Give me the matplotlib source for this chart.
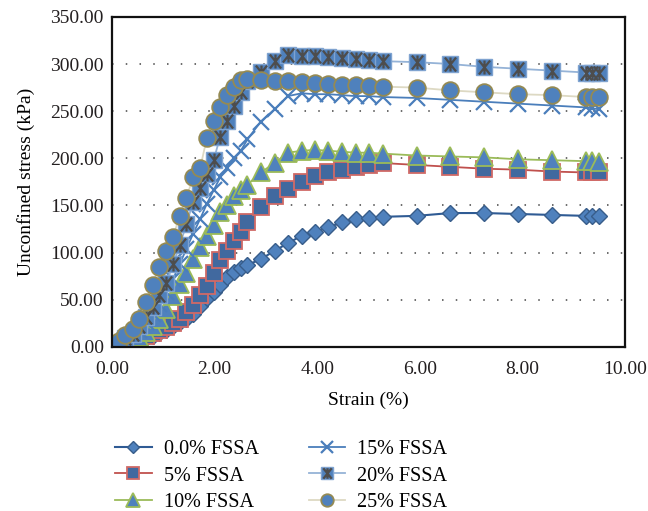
import numpy as np
import matplotlib
matplotlib.use("Agg")
import matplotlib.pyplot as plt
from matplotlib.path import Path
from matplotlib.legend_handler import HandlerTuple

plt.rcParams['font.family'] = ['Liberation Serif', 'DejaVu Serif']
plt.rcParams['font.size'] = 14

# strain (%) common to all series
strain = [0, 0.13, 0.26, 0.40, 0.53, 0.66, 0.79, 0.92, 1.06, 1.19, 1.32, 1.45, 1.58,
          1.72, 1.85, 1.98, 2.11, 2.24, 2.38, 2.51, 2.64, 2.90, 3.17, 3.43, 3.70, 3.96,
          4.22, 4.49, 4.75, 5.01, 5.28, 5.94, 6.60, 7.26, 7.92, 8.58, 9.24, 9.37, 9.50]

# unconfined stress (kPa)
fssa_0 = [0, 1, 3, 5, 7, 9, 12, 15, 18, 22, 26, 30, 35, 43, 52, 58, 66, 74, 80, 84, 87,
          93, 102, 110, 118, 122, 127, 132, 136, 137, 138, 139, 142, 142, 141, 140, 139, 139, 139]
fssa_5 = [0, 2, 4, 6, 9, 12, 15, 18, 21, 25, 30, 37, 45, 55, 65, 78, 92, 102, 112, 122, 133,
          148, 160, 168, 175, 181, 185, 188, 191, 193, 195, 193, 191, 189, 188, 186, 185, 185, 185]
fssa_10 = [0, 2, 4, 7, 11, 16, 22, 30, 40, 54, 67, 78, 93, 106, 118, 129, 143, 151, 160, 166, 172,
           185, 195, 206, 208, 209, 208, 207, 206, 206, 205, 203, 202, 201, 199, 198, 197, 197, 196]
fssa_15 = [0, 3, 7, 12, 18, 26, 35, 46, 58, 72, 88, 104, 120, 136, 152, 166, 180, 190, 200, 208, 220,
           239, 252, 266, 269, 268, 268, 267, 266, 266, 265, 264, 262, 260, 258, 256, 254, 253, 252]
fssa_20 = [0, 4, 9, 14, 22, 32, 42, 55, 68, 88, 108, 130, 154, 169, 183, 198, 223, 240, 255, 270, 282,
           292, 303, 310, 309, 308, 307, 306, 305, 304, 303, 302, 300, 297, 295, 293, 291, 291, 291]
fssa_25 = [0, 6, 13, 19, 30, 48, 66, 85, 102, 117, 139, 158, 180, 190, 222, 240, 254, 267, 276, 283, 284,
           283, 282, 282, 281, 280, 279, 278, 278, 277, 276, 275, 272, 270, 268, 267, 265, 265, 265]

labels = ['0.0% FSSA', '5% FSSA', '10% FSSA', '15% FSSA', '20% FSSA', '25% FSSA']

blue = '#4F81BD'
# asterisk-like mark drawn inside the 20% squares
star = Path([(0, -1), (0, 1), (-0.8, -1), (0.8, 1), (-0.8, 1), (0.8, -1)],
            [Path.MOVETO, Path.LINETO, Path.MOVETO, Path.LINETO, Path.MOVETO, Path.LINETO])

fig = plt.figure(figsize=(6.48, 5.11), dpi=100)
ax = fig.add_axes([0.173, 0.321, 0.791, 0.646])

h0, = ax.plot(strain, fssa_0, color='#2F5B94', lw=1.5, marker='D', ms=8,
              mfc=blue, mec='#385D8A', mew=1)
h1, = ax.plot(strain, fssa_5, color='#C0504D', lw=1.3, marker='s', ms=12,
              mfc='#41699F', mec='#D06A67', mew=1.3)
h2, = ax.plot(strain, fssa_10, color='#9BBB59', lw=1.3, marker='^', ms=13,
              mfc=blue, mec='#9BBB59', mew=1.3)
h3, = ax.plot(strain, fssa_15, color='#4A7EBB', lw=1.3, marker='x', ms=11.5, mew=1.6)
h4a, = ax.plot(strain, fssa_20, color='#95B3D7', lw=1.3, marker='s', ms=12,
               mfc=blue, mec='#7FA3D0', mew=1)
h4b, = ax.plot(strain, fssa_20, ls='none', marker=star, ms=10, mec='#4D4D4D',
               mfc='none', mew=1.6)
h5, = ax.plot(strain, fssa_25, color='#DDD9C3', lw=1.3, marker='o', ms=12,
              mfc=blue, mec='#948A54', mew=1.3)

ax.set_xlim(0, 10)
ax.set_ylim(0, 350)
ax.set_xticks(np.arange(0, 10.1, 2))
ax.set_yticks(np.arange(0, 351, 50))
ax.xaxis.set_major_formatter(matplotlib.ticker.FormatStrFormatter('%.2f'))
ax.yaxis.set_major_formatter(matplotlib.ticker.FormatStrFormatter('%.2f'))
ax.tick_params(length=0, colors='#231F20')
ax.tick_params(axis='x', pad=10)
ax.tick_params(axis='y', pad=6)
for s in ax.spines.values():
    s.set_linewidth(1.6)
    s.set_color('#111111')
ax.grid(axis='y', linestyle=(0, (1, 8)), color='#444444', lw=1.1)
ax.set_axisbelow(True)
ax.set_xlabel('Strain (%)', labelpad=10)
ax.set_ylabel('Unconfined stress (kPa)', labelpad=11)

leg = fig.legend([h0, h1, h2, h3, (h4a, h4b), h5], labels, ncol=2, frameon=False,
                 loc='upper left', bbox_to_anchor=(0.15, 0.175), handlelength=1.8,
                 handletextpad=0.6, columnspacing=2.5, labelspacing=0.38,
                 markerscale=0.75, prop={'size': 14.5},
                 handler_map={tuple: HandlerTuple(ndivide=1)})

fig.savefig('out.png', dpi=100)
